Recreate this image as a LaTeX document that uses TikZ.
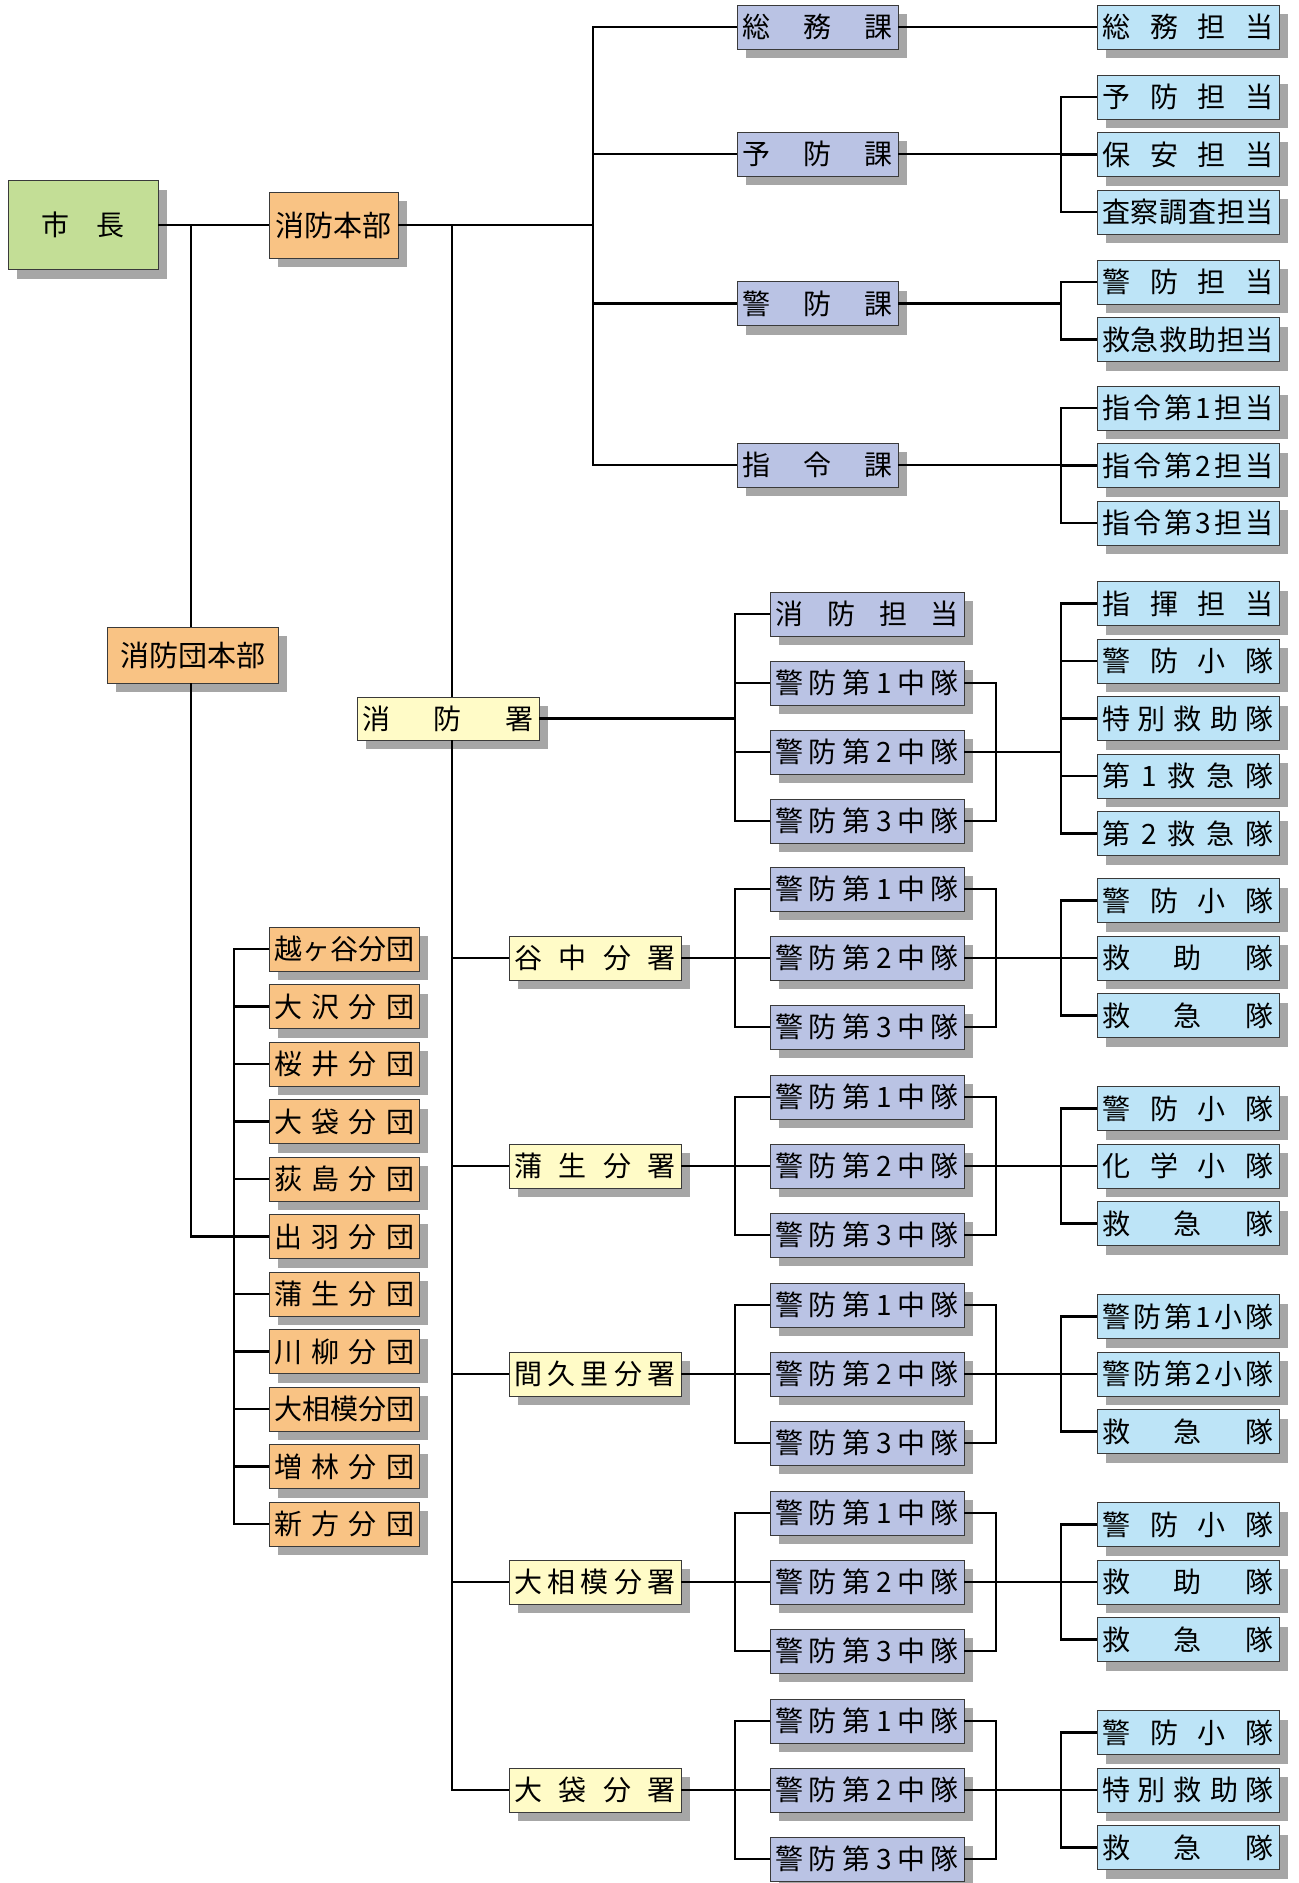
\documentclass[tikz,border=0pt]{standalone}
\usepackage{fontspec}
\setmainfont{Noto Sans CJK JP}
\usetikzlibrary{calc,shadows}
\definecolor{mayorgreen}{HTML}{C3DE96}
\definecolor{hqorange}{HTML}{F9C384}
\definecolor{stationyellow}{HTML}{FFFBC7}
\definecolor{sectionblue}{HTML}{BAC3E4}
\definecolor{squadblue}{HTML}{BDE4F7}
\definecolor{shadowgray}{HTML}{A6A6A6}
\definecolor{boxline}{HTML}{3A3A3A}
\newcommand\jt[1]{\hbox to\linewidth{\spaceskip=0pt plus 1fil\relax#1}}
\tikzset{orgbox/.style={draw=boxline,line width=0.9pt,inner xsep=5pt,inner ysep=0pt,minimum height=44pt,font=\fontsize{28}{30}\selectfont,general shadow={fill=shadowgray,shadow xshift=9pt,shadow yshift=-9pt}},
mayorbox/.style={orgbox,fill=mayorgreen,minimum width=150pt,minimum height=89pt},
hqbox/.style={orgbox,fill=hqorange,font=\fontsize{29}{31}\selectfont},
bundanbox/.style={orgbox,fill=hqorange,text width=140pt},
stationbox/.style={orgbox,fill=stationyellow,text width=172pt,minimum height=43pt},
branchbox/.style={orgbox,fill=stationyellow,text width=162pt},
sectionbox/.style={orgbox,fill=sectionblue,text width=151pt},
companybox/.style={orgbox,fill=sectionblue,text width=184pt},
squadbox/.style={orgbox,fill=squadblue,text width=172pt},
conn/.style={line width=2.7pt}}

\begin{document}
\begin{tikzpicture}[x=1pt,y=-1pt]
\useasboundingbox (0,0) rectangle (1299,1883);

% Buses
\coordinate (mbus) at (191,225);
\coordinate (dbus) at (234,0);
\coordinate (sbus) at (452,225);
\coordinate (kbus) at (593,225);
\coordinate (cbusL) at (735,0);
\coordinate (cbusR) at (996,0);
\coordinate (tbus) at (1061,0);

% Top nodes
\node[mayorbox] (shicho) at (83,225) {市\hspace{27pt}長};
\node[hqbox,minimum width=129pt,minimum height=66pt] (honbu) at (333.5,225) {消防本部};
\node[hqbox,minimum width=171pt,minimum height=56pt] (danhonbu) at (192.5,655) {消防団本部};
\node[stationbox] (sho) at (448,718.5) {\jt{消 防 署}};

% Sections
\node[sectionbox] (ka1) at (817.5,27) {\jt{総 務 課}};
\node[sectionbox] (ka2) at (817.5,154) {\jt{予 防 課}};
\node[sectionbox] (ka3) at (817.5,303.5) {\jt{警 防 課}};
\node[sectionbox] (ka4) at (817.5,465) {\jt{指 令 課}};
\node[squadbox] (tan1) at (1188,27) {\jt{総 務 担 当}};
\node[squadbox] (tan2) at (1188,97) {\jt{予 防 担 当}};
\node[squadbox] (tan3) at (1188,154.5) {\jt{保 安 担 当}};
\node[squadbox] (tan4) at (1188,212) {\jt{査 察 調 査 担 当}};
\node[squadbox] (tan5) at (1188,282) {\jt{警 防 担 当}};
\node[squadbox] (tan6) at (1188,339.5) {\jt{救 急 救 助 担 当}};
\foreach \kk in {1,2,3} \node[squadbox] (shirei\kk) at (1188,350.5+57.5*\kk) {\jt{指 令 第 \kk{} 担 当}};

\draw[conn] (shicho.east) -- (honbu.west);
\draw[conn] (honbu.east) -- (kbus);
\draw[conn] (ka1.west) -| (kbus) |- (ka4.west);
\draw[conn] (ka2.west) -- (ka2.west -| kbus);
\draw[conn] (ka3.west) -- (ka3.west -| kbus);
\draw[conn] (ka1.east) -- (tan1.west);
\draw[conn] (ka2.east) -- (ka2.east -| tbus);
\draw[conn] (tan2.west) -| (tbus |- tan4.west) -- (tan4.west);
\draw[conn] (tan3.west) -- (tan3.west -| tbus);
\draw[conn] (ka3.east) -- (ka3.east -| tbus);
\draw[conn] (tan5.west) -| (tbus |- tan6.west) -- (tan6.west);
\draw[conn] (ka4.east) -- (ka4.east -| tbus);
\draw[conn] (shirei1.west) -| (tbus |- shirei3.west) -- (shirei3.west);
\draw[conn] (shirei2.west) -- (shirei2.west -| tbus);

% Fire station
\node[companybox] (shotan) at (867,614) {\jt{消 防 担 当}};
\foreach \kk in {1,2,3} \node[companybox] (sc\kk) at (867,614+69*\kk) {\jt{警 防 第 \kk{} 中 隊}};
\foreach \lbl [count=\kk] in {指 揮 担 当, 警 防 小 隊, 特 別 救 助 隊, 第 1 救 急 隊, 第 2 救 急 隊}
  \node[squadbox] (ss\kk) at (1188,546+57.5*\kk) {\jt{\lbl}};
\draw[conn] (sho.east) -- (sho.east -| cbusL);
\draw[conn] (shotan.west) -| (cbusL |- sc3.west) -- (sc3.west);
\foreach \kk in {1,2} \draw[conn] (sc\kk.west) -- (sc\kk.west -| cbusL);
\draw[conn] (sc1.east) -| (cbusR |- sc3.east) -- (sc3.east);
\draw[conn] (sc2.east) -- (sc2.east -| tbus);
\draw[conn] (ss1.west) -| (tbus |- ss5.west) -- (ss5.west);
\foreach \kk in {2,3,4} \draw[conn] (ss\kk.west) -- (ss\kk.west -| tbus);

% Branch stations
\foreach \bname/\qa/\qb/\qc [count=\gi from 0] in {
  谷 中 分 署/警 防 小 隊/救 助 隊/救 急 隊,
  蒲 生 分 署/警 防 小 隊/化 学 小 隊/救 急 隊,
  間 久 里 分 署/警 防 第 1 小 隊/警 防 第 2 小 隊/救 急 隊,
  大 相 模 分 署/警 防 小 隊/救 助 隊/救 急 隊,
  大 袋 分 署/警 防 小 隊/特 別 救 助 隊/救 急 隊}{
  \pgfmathsetmacro\cy{958+208*\gi}
  \node[branchbox] (br\gi) at (595,\cy) {\jt{\bname}};
  \foreach \kk in {1,2,3} \node[companybox] (co\gi\kk) at (867,\cy+69*\kk-138) {\jt{警 防 第 \kk{} 中 隊}};
  \node[squadbox] (sq\gi1) at (1188,\cy-57.5) {\jt{\qa}};
  \node[squadbox] (sq\gi2) at (1188,\cy) {\jt{\qb}};
  \node[squadbox] (sq\gi3) at (1188,\cy+57.5) {\jt{\qc}};
  \draw[conn] (sbus |- br\gi.west) -- (br\gi.west);
  \draw[conn] (br\gi.east) -- (co\gi2.west);
  \draw[conn] (co\gi1.west) -| (cbusL |- co\gi3.west) -- (co\gi3.west);
  \draw[conn] (co\gi1.east) -| (cbusR |- co\gi3.east) -- (co\gi3.east);
  \draw[conn] (co\gi2.east) -- (sq\gi2.west);
  \draw[conn] (sq\gi1.west) -| (tbus |- sq\gi3.west) -- (sq\gi3.west);
}
\draw[conn] (honbu.east -| sbus) -- (sho.north -| sbus);
\draw[conn] (sho.south -| sbus) -- (sbus |- br4.west) -- (br4.west);

% Fire brigade units
\foreach \lbl [count=\gi from 0] in {越ヶ谷分団, 大 沢 分 団, 桜 井 分 団, 大 袋 分 団, 荻 島 分 団, 出 羽 分 団, 蒲 生 分 団, 川 柳 分 団, 大相模分団, 増 林 分 団, 新 方 分 団}
  \node[bundanbox] (bd\gi) at (344,949+57.5*\gi) {\jt{\lbl}};
\draw[conn] (bd0.west) -| (dbus |- bd10.west) -- (bd10.west);
\foreach \gi in {1,...,9} \draw[conn] (bd\gi.west) -- (bd\gi.west -| dbus);
\draw[conn] (mbus) -- (danhonbu.north -| mbus);
\draw[conn] (danhonbu.south -| mbus) -- (mbus |- bd5.west) -- (bd5.west -| dbus);

\end{tikzpicture}
\end{document}
